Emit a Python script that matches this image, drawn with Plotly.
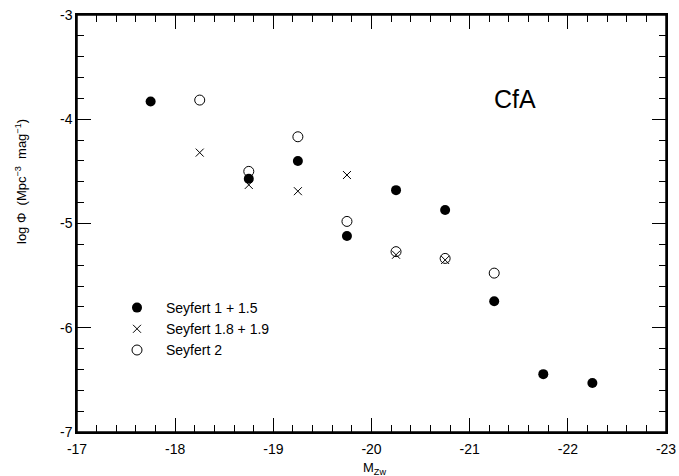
import plotly.graph_objects as go

# Data
sy1_x = [-17.75, -18.75, -19.25, -19.75, -20.25, -20.75, -21.25, -21.75, -22.25]
sy1_y = [-3.83, -4.57, -4.40, -5.12, -4.68, -4.87, -5.745, -6.445, -6.53]

sy18_x = [-18.25, -18.75, -19.25, -19.75, -20.25, -20.75]
sy18_y = [-4.32, -4.63, -4.69, -4.535, -5.30, -5.35]

sy2_x = [-18.25, -18.75, -19.25, -19.75, -20.25, -20.75, -21.25]
sy2_y = [-3.816, -4.50, -4.168, -4.98, -5.27, -5.335, -5.476]

x_tickvals = [-17, -18, -19, -20, -21, -22, -23]
x_ticktext = ["-17", "-18", "-19", "-20", "-21", "-22", "-23"]
y_tickvals = [-3, -4, -5, -6, -7]
y_ticktext = ["-3", "-4", "-5", "-6", "-7"]

FONT = "Liberation Sans, Arial, Helvetica, sans-serif"

x_minor = [round(-17 - 0.2 * i, 2) for i in range(31)]
y_minor = [round(-7 + 0.2 * i, 2) for i in range(21)]

W, H = 679, 476
PL, PR, PT, PB = 77, 13, 15, 44
PW, PH = W - PL - PR, H - PT - PB

fig = go.Figure()
fig.add_trace(go.Scatter(x=sy1_x, y=sy1_y, mode="markers", name="Seyfert 1 + 1.5",
                         marker=dict(symbol="circle", size=10, color="black")))
fig.add_trace(go.Scatter(x=sy18_x, y=sy18_y, mode="markers", name="Seyfert 1.8 + 1.9",
                         marker=dict(symbol="x-thin", size=8, color="black",
                                     line=dict(width=1, color="black"))))
fig.add_trace(go.Scatter(x=sy2_x, y=sy2_y, mode="markers", name="Seyfert 2",
                         marker=dict(symbol="circle-open", size=10, color="black",
                                     line=dict(width=1, color="black"))))

axis_common = dict(showgrid=False, zeroline=False, showline=True, linecolor="black",
                   linewidth=1.5, mirror="allticks", ticks="inside", ticklen=14,
                   tickwidth=1.2, tickcolor="black", automargin=False,
                   ticklabeloverflow="allow",
                   tickfont=dict(family=FONT, size=14, color="black"))

fig.update_xaxes(range=[-17, -23], tickmode="array", tickvals=x_tickvals, ticktext=x_ticktext,
                 ticklabelstandoff=3,
                 minor=dict(tickmode="array", tickvals=x_minor, ticks="inside", ticklen=7,
                            tickcolor="black", tickwidth=1.2, showgrid=False),
                 **axis_common)
fig.update_yaxes(range=[-7, -3], tickmode="array", tickvals=y_tickvals, ticktext=y_ticktext,
                 minor=dict(tickmode="array", tickvals=y_minor, ticks="inside", ticklen=7,
                            tickcolor="black", tickwidth=1.2, showgrid=False),
                 **axis_common)

# plot frame
fig.add_shape(type="rect", xref="paper", yref="paper", x0=0, x1=1, y0=0, y1=1,
              line=dict(color="black", width=1.5), layer="above")

fig.add_annotation(text="CfA", x=(515 - PL) / PW, y=(432 - 99) / PH, xref="paper", yref="paper",
                   showarrow=False, font=dict(family=FONT, size=25, color="black"),
                   xanchor="center", yanchor="middle")
fig.add_annotation(text="log \u03a6  (Mpc<sup>\u22123</sup>  mag<sup>\u22121</sup>)",
                   x=(21 - PL) / PW, y=(432 - 182) / PH,
                   xref="paper", yref="paper", showarrow=False, textangle=-90,
                   font=dict(family=FONT, size=13, color="black"),
                   xanchor="center", yanchor="middle")
fig.add_annotation(text="M<sub>Zw</sub>", x=(374 - PL) / PW, y=(432 - 469) / PH,
                   xref="paper", yref="paper",
                   showarrow=False, font=dict(family=FONT, size=13, color="black"),
                   xanchor="center", yanchor="middle")

fig.update_layout(
    width=W, height=H,
    margin=dict(l=PL, r=PR, t=PT, b=PB, autoexpand=False),
    paper_bgcolor="white", plot_bgcolor="white",
    showlegend=True,
    legend=dict(x=(108 - PL) / PW, y=(432 - 292) / PH, xanchor="left", yanchor="top",
                bgcolor="rgba(0,0,0,0)", font=dict(family=FONT, size=14, color="black"),
                itemwidth=48),
)

fig.write_html("out.html", config={"displayModeBar": False},
               post_script="document.body.style.margin='0';document.body.style.overflow='hidden';")
